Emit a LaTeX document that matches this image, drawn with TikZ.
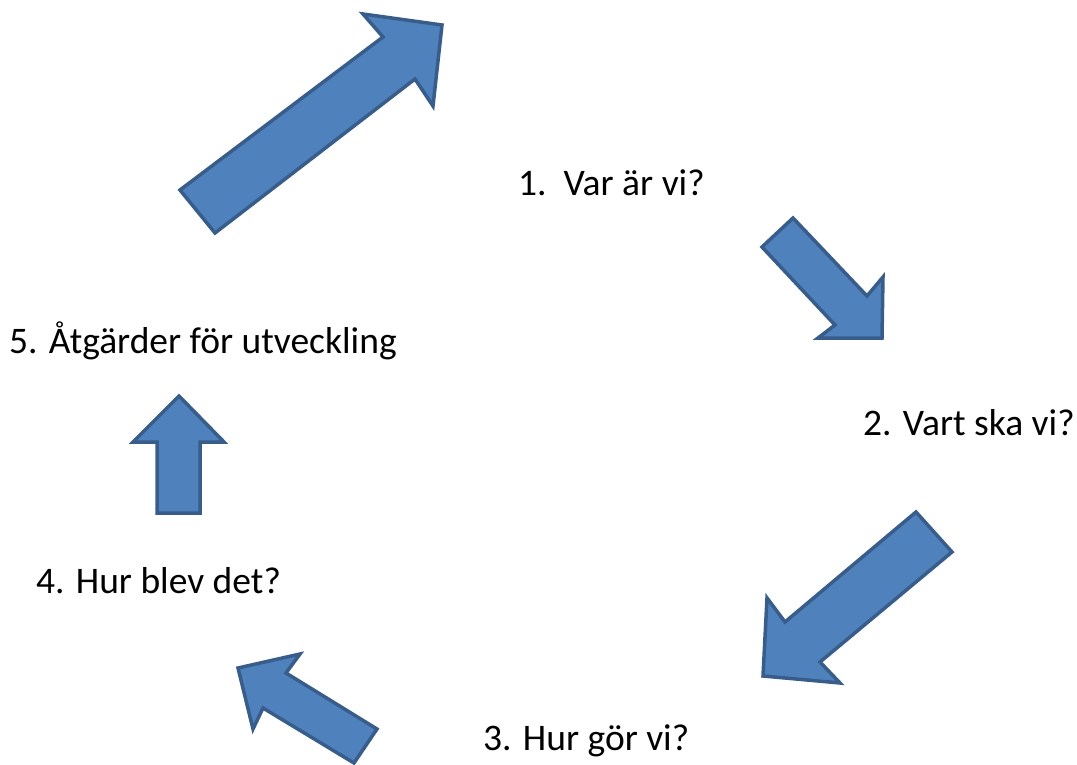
\documentclass[tikz,border=0pt]{standalone}
\usepackage{fontspec}
\setmainfont{Carlito}
\definecolor{arrfill}{HTML}{4F81BD}
\definecolor{arrline}{HTML}{385D8A}
\begin{document}
\begin{tikzpicture}[x=1pt,y=-1pt,
  blockarrow/.style={fill=arrfill,draw=arrline,line width=3.5pt,line join=miter},
  label/.style={anchor=base west,inner sep=0pt,font=\fontsize{37.5}{44}\selectfont}]
\useasboundingbox (0,0) rectangle (1077,765);
% arrow 1 (up-right)
\draw[blockarrow] (180,190) -- (383,37) -- (363,14) -- (442,25) -- (433,106) -- (415,79) -- (215,233) -- cycle;
% arrow 2 (down-right)
\draw[blockarrow] (762,247) -- (793,218) -- (867,296) -- (883,277) -- (882,338) -- (818,338) -- (835,325) -- cycle;
% arrow 3 (down-left)
\draw[blockarrow] (916,512) -- (952,552) -- (820,662) -- (840,683) -- (763,676) -- (767,598) -- (785,622) -- cycle;
% arrow 4 (up-left)
\draw[blockarrow] (238,668) -- (300,654) -- (286,673) -- (377,729) -- (354,763) -- (263,708) -- (253,729) -- cycle;
% arrow 5 (up)
\draw[blockarrow] (179,396) -- (224,442) -- (200,442) -- (200,513) -- (157,513) -- (157,442) -- (133,442) -- cycle;
\node[label] (t1) at (518,196) {1.\hspace{0.45em}Var är vi?};
\node[label] (t2) at (863,435) {2. Vart ska vi?};
\node[label] (t3) at (483,750) {3. Hur gör vi?};
\node[label] (t4) at (36,593) {4. Hur blev det?};
\node[label] (t5) at (9,353) {5. Åtgärder för utveckling};
\end{tikzpicture}
\end{document}
